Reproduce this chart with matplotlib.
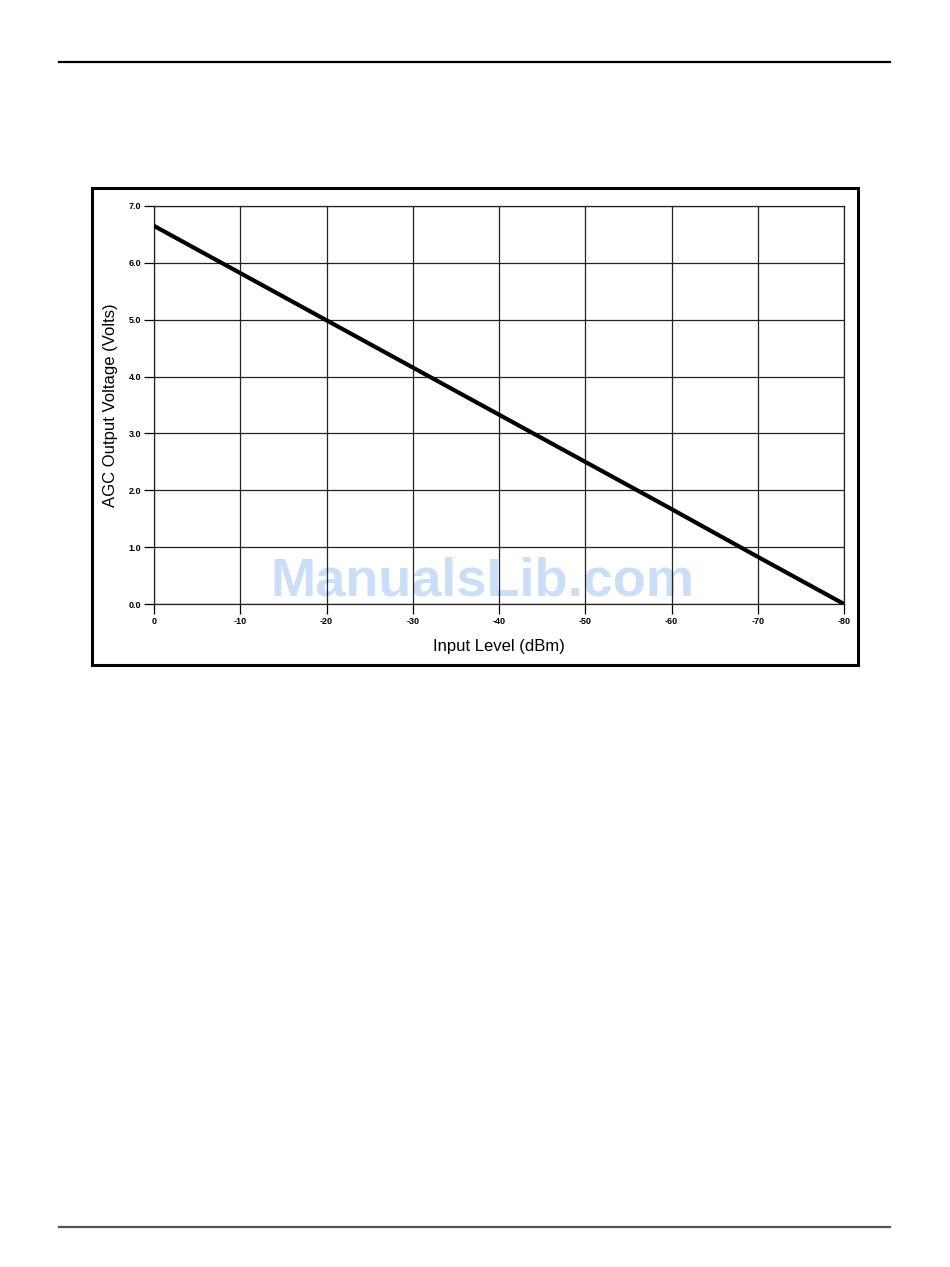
import matplotlib
matplotlib.use("Agg")
import matplotlib.pyplot as plt
from matplotlib.patches import Rectangle
from matplotlib.lines import Line2D

plt.rcParams["font.family"] = ["Liberation Sans Narrow", "Liberation Sans", "DejaVu Sans"]

# Dati (lettura dal grafico)
input_level = [0, -10, -20, -30, -40, -50, -60, -70, -80]
agc_volts = [6.65, 5.82, 4.99, 4.16, 3.33, 2.50, 1.67, 0.83, 0.0]

x_ticks = [0, -10, -20, -30, -40, -50, -60, -70, -80]
y_ticks = [0.0, 1.0, 2.0, 3.0, 4.0, 5.0, 6.0, 7.0]

W, H = 950, 1267
fig = plt.figure(figsize=(W / 100, H / 100), dpi=100)

# linee di pagina
fig.add_artist(Line2D([59 / W, 890 / W], [1 - 62 / H, 1 - 62 / H],
                      color="black", lw=1.6, transform=fig.transFigure))
fig.add_artist(Line2D([59 / W, 890 / W], [1 - 1227 / H, 1 - 1227 / H],
                      color="#555555", lw=1.6, transform=fig.transFigure))

# cornice
fig.add_artist(Rectangle((92 / W, 1 - 665 / H), (858 - 92) / W, (665 - 188) / H,
                         fill=False, edgecolor="black", lw=2.2,
                         transform=fig.transFigure))

ax = fig.add_axes([154 / W, 1 - 604 / H, (844 - 154) / W, (604 - 206) / H])
ax.plot(input_level, agc_volts, color="black", lw=3, solid_capstyle="butt", zorder=3)

ax.set_xlim(0, -80)
ax.set_ylim(0, 7)
ax.set_xticks(x_ticks)
ax.set_yticks(y_ticks)
ax.set_xticklabels([f"{v}" for v in x_ticks], fontsize=6.5, fontweight="bold")
ax.set_yticklabels([f"{v:.1f}" for v in y_ticks], fontsize=6.5, fontweight="bold")
ax.tick_params(direction="out", length=7, width=0.9, pad=2, colors="black")
ax.grid(True, color="#222222", lw=0.9)
for s in ax.spines.values():
    s.set_linewidth(0.9)
    s.set_color("#222222")

ax.set_xlabel("Input Level (dBm)", fontsize=12, labelpad=9.5)
ax.set_ylabel("AGC Output Voltage (Volts)", fontsize=12, labelpad=7.5)

# watermark (sotto la griglia)
ax.text(482 / W, 1 - 596 / H, "ManualsLib.com", fontsize=39, fontweight="bold",
        family=["Liberation Sans", "DejaVu Sans"], color="#cadef7",
        ha="center", va="baseline", zorder=1, clip_on=False,
        transform=fig.transFigure)

fig.savefig("out.png", dpi=100)
